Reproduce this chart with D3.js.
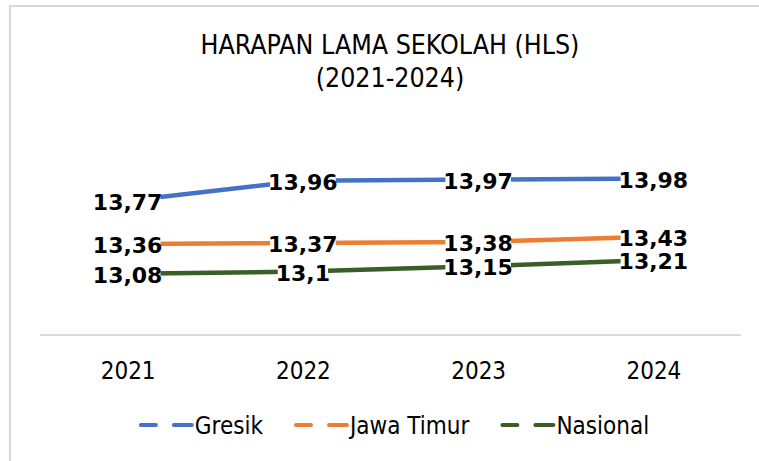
<!DOCTYPE html>
<html>
<head>
<meta charset="utf-8">
<script src="https://cdn.jsdelivr.net/npm/d3@7"></script>
<style>
  html, body { margin: 0; padding: 0; background: #fff; }
  svg { display: block; }
</style>
</head>
<body>
<svg id="chart" width="759" height="461"></svg>
<script>
const years = ["2021", "2022", "2023", "2024"];
const seriesNames = ["Gresik", "Jawa Timur", "Nasional"];
const gresik = [13.77, 13.96, 13.97, 13.98];
const jawaTimur = [13.36, 13.37, 13.38, 13.43];
const nasional = [13.08, 13.10, 13.15, 13.21];
const seriesColors = ["#4472C4", "#ED7D31", "#3B5E27"];
const labelsText = [
  ["13,77", "13,96", "13,97", "13,98"],
  ["13,36", "13,37", "13,38", "13,43"],
  ["13,08", "13,1", "13,15", "13,21"]
];
const titleLines = ["HARAPAN LAMA SEKOLAH (HLS)", "(2021-2024)"];

const series = seriesNames.map((name, i) => ({
  name, color: seriesColors[i],
  values: [gresik, jawaTimur, nasional][i],
  labels: labelsText[i]
}));

const svg = d3.select("#chart");
const condensed = "'DejaVu Sans Condensed', 'DejaVu Sans', sans-serif";

// outer frame
svg.append("rect")
  .attr("x", 10).attr("y", 6).attr("width", 760).attr("height", 480)
  .attr("fill", "#fff").attr("stroke", "#d9d9d9").attr("stroke-width", 2);

// title
svg.append("g").selectAll("text").data(titleLines).join("text")
  .attr("x", 390)
  .attr("y", (d, i) => 54 + i * 33)
  .attr("text-anchor", "middle")
  .attr("font-family", condensed)
  .attr("font-size", 26.5)
  .attr("fill", "#000")
  .text(d => d);

const x = d3.scalePoint().domain(years).range([40, 741]).padding(0.5);
const y = d3.scaleLinear().domain([12.5, 14.5]).range([335, 123.6]);

// category axis
const xAxis = svg.append("g").attr("transform", "translate(0,335)")
  .call(d3.axisBottom(x).tickSize(0).tickPadding(27));
xAxis.select(".domain").attr("stroke", "#d9d9d9").attr("stroke-width", 2)
  .attr("d", "M40,0H741");
xAxis.selectAll("text")
  .attr("font-family", condensed)
  .attr("font-size", 24)
  .attr("fill", "#000");

// lines
const line = d3.line().x((d, i) => x(years[i])).y(d => y(d));
svg.append("g").selectAll("path").data(series).join("path")
  .attr("d", d => line(d.values))
  .attr("fill", "none")
  .attr("stroke", d => d.color)
  .attr("stroke-width", 4.5)
  .attr("stroke-linecap", "round")
  .attr("stroke-linejoin", "round");

// data labels
const lblG = svg.append("g");
series.forEach(s => {
  s.values.forEach((v, i) => {
    const g = lblG.append("g");
    const t = g.append("text")
      .attr("x", x(years[i]))
      .attr("y", y(v) + 9)
      .attr("text-anchor", "middle")
      .attr("font-family", "'DejaVu Sans', sans-serif")
      .attr("font-weight", "bold")
      .attr("font-size", 22)
      .attr("fill", "#000")
      .text(s.labels[i]);
    const bb = t.node().getBBox();
    g.insert("rect", "text")
      .attr("x", bb.x + 2).attr("y", bb.y + 6)
      .attr("width", bb.width - 4).attr("height", bb.height - 12)
      .attr("fill", "#fff");
  });
});

// legend
const legend = svg.append("g");
let cx = 0;
series.forEach((s, i) => {
  const g = legend.append("g");
  g.append("line").attr("x1", 2).attr("x2", 17).attr("y1", 0).attr("y2", 0)
    .attr("stroke", s.color).attr("stroke-width", 4).attr("stroke-linecap", "round");
  g.append("line").attr("x1", 35).attr("x2", 53).attr("y1", 0).attr("y2", 0)
    .attr("stroke", s.color).attr("stroke-width", 4).attr("stroke-linecap", "round");
  const t = g.append("text").attr("x", 56).attr("y", 8.5)
    .attr("font-family", condensed).attr("font-size", 24).attr("fill", "#000")
    .text(s.name);
  const w = 56 + t.node().getComputedTextLength();
  g.attr("transform", `translate(${cx},0)`);
  cx += w + 31;
});
const totalW = cx - 31;
legend.attr("transform", `translate(${394 - totalW / 2},425)`);
</script>
</body>
</html>
